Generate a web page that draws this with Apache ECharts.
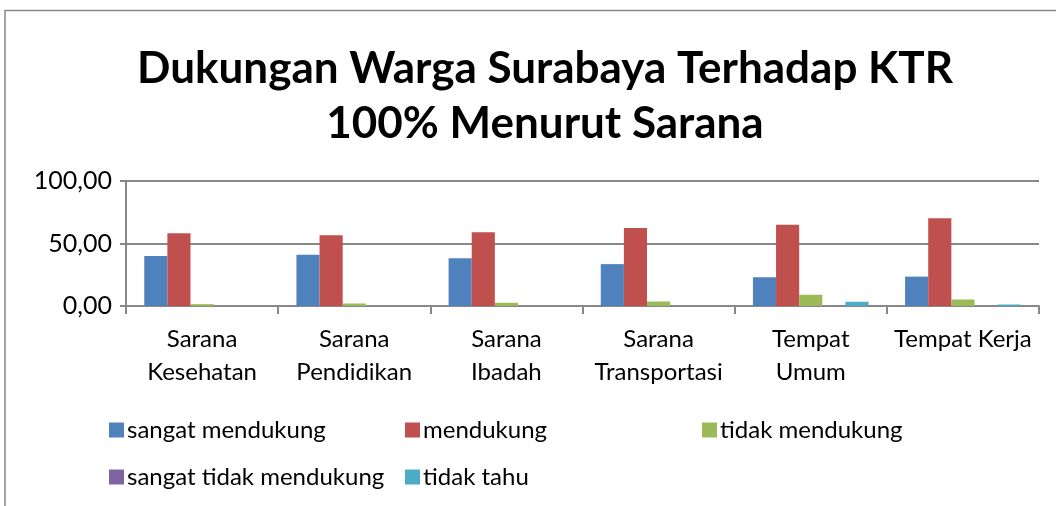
<!DOCTYPE html>
<html>
<head>
<meta charset="utf-8">
<script src="https://cdn.jsdelivr.net/npm/echarts@6/dist/echarts.min.js"></script>
<style>
  html, body { margin: 0; padding: 0; background: #fff; }
  #chart { width: 1056px; height: 506px; }
</style>
</head>
<body>
<div id="chart"></div>
<script>
// kategori sarana
var categories = ['Sarana\nKesehatan', 'Sarana\nPendidikan', 'Sarana\nIbadah', 'Sarana\nTransportasi', 'Tempat\nUmum', 'Tempat Kerja'];

// nilai per kelompok jawaban (%)
var sangatMendukung = [40.0, 41.0, 38.3, 33.5, 23.0, 23.5];
var mendukung = [58.2, 56.6, 59.0, 62.5, 65.0, 70.3];
var tidakMendukung = [1.5, 2.0, 2.6, 3.6, 9.0, 5.2];
var sangatTidakMendukung = [0, 0, 0, 0, 0, 0];
var tidakTahu = [0, 0, 0, 0, 3.4, 1.2];

var seriesNames = ['sangat mendukung', 'mendukung', 'tidak mendukung', 'sangat tidak mendukung', 'tidak tahu'];
var seriesColors = ['#4F81BD', '#C0504D', '#9BBB59', '#8064A2', '#4BACC6'];
var seriesData = [sangatMendukung, mendukung, tidakMendukung, sangatTidakMendukung, tidakTahu];

var FONT = 'Lato';

var chart = echarts.init(document.getElementById('chart'));

var series = [];
for (var i = 0; i < seriesNames.length; i++) {
    series.push({
        name: seriesNames[i],
        type: 'bar',
        data: seriesData[i],
        barGap: '0%',
        barCategoryGap: '24%',
        itemStyle: { color: seriesColors[i] },
        animation: false
    });
}

// posisi legenda (dua baris, kolom tetap)
var legendPos = [[104, 413], [400, 413], [697, 413], [104, 460], [400, 460]];
var legends = [];
for (var j = 0; j < seriesNames.length; j++) {
    legends.push({
        data: [seriesNames[j]],
        left: legendPos[j][0],
        top: legendPos[j][1],
        icon: 'rect',
        itemWidth: 15,
        itemHeight: 15,
        itemGap: 6,
        selectedMode: false,
        textStyle: { fontFamily: FONT, fontSize: 24, color: '#000', padding: [0, 0, 0, -2] }
    });
}

var option = {
    backgroundColor: '#fff',
    title: {
        text: 'Dukungan Warga Surabaya Terhadap KTR\n100% Menurut Sarana',
        left: 540,
        textAlign: 'center',
        top: 36,
        textStyle: {
            fontFamily: FONT,
            fontWeight: 'bold',
            fontSize: 44,
            lineHeight: 55,
            color: '#000'
        }
    },
    graphic: [{
        type: 'polyline',
        shape: { points: [[5, 506], [5, 10.5], [1056, 10.5]] },
        style: { stroke: '#888', lineWidth: 1.5, fill: null }
    }],
    legend: legends,
    grid: { left: 126, right: 17, top: 181, bottom: 200 },
    xAxis: {
        type: 'category',
        data: categories,
        axisLine: { lineStyle: { color: '#888', width: 2 } },
        axisTick: { show: true, length: 8, lineStyle: { color: '#888', width: 2 } },
        axisLabel: {
            fontFamily: FONT,
            fontSize: 24,
            lineHeight: 33,
            color: '#000',
            margin: 17,
            interval: 0
        }
    },
    yAxis: {
        type: 'value',
        min: 0,
        max: 100,
        interval: 50,
        axisLine: { show: true, lineStyle: { color: '#888', width: 2 } },
        axisTick: { show: true, length: 6, lineStyle: { color: '#888', width: 2 } },
        splitLine: { lineStyle: { color: '#888', width: 2 } },
        axisLabel: {
            fontFamily: FONT,
            fontSize: 25,
            color: '#000',
            margin: 14,
            formatter: function (v) { return v.toFixed(2).replace('.', ','); }
        }
    },
    series: series
};

chart.setOption(option);
</script>
</body>
</html>
